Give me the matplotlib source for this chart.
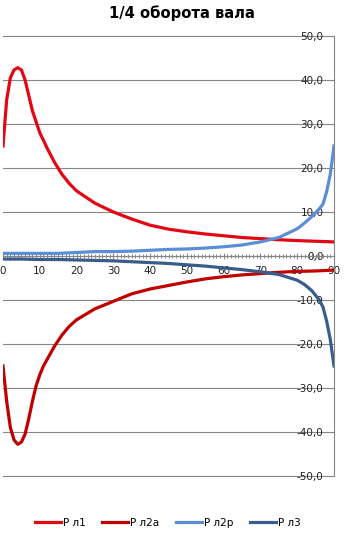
import numpy as np
import matplotlib
matplotlib.use('Agg')
import matplotlib.pyplot as plt
from matplotlib.ticker import MultipleLocator, FuncFormatter

# angle of shaft, degrees
angle_red = [0, 1, 2, 3, 4, 5, 6, 7, 8, 9, 10, 11, 12, 14, 16, 18, 20,
             25, 30, 35, 40, 45, 50, 55, 60, 65, 70, 75, 80, 85, 90]
p_l1 = [25, 35.5, 40.5, 42.3, 42.8, 42.3, 40, 36.5, 33, 30.5, 28, 26.3, 24.5,
        21.3, 18.6, 16.5, 14.8, 12, 10, 8.4, 7.0, 6.1, 5.5, 5.0, 4.6, 4.2,
        3.95, 3.7, 3.5, 3.35, 3.2]
p_l2a = [-25, -33, -39, -41.8, -42.8, -42.3, -40.5, -37, -33, -29.5, -27, -25,
         -23.5, -20.5, -18, -16, -14.5, -12, -10.3, -8.6, -7.5, -6.7, -5.9,
         -5.2, -4.7, -4.3, -4.0, -3.7, -3.5, -3.4, -3.2]

angle_blue = [0, 5, 10, 15, 20, 25, 30, 35, 40, 45, 50, 55, 60, 65, 70, 75,
              80, 82, 84, 86, 87, 88, 89, 90]
p_l2r = [0.6, 0.6, 0.6, 0.6, 0.8, 1.0, 1.0, 1.1, 1.3, 1.5, 1.6, 1.8, 2.1, 2.5,
         3.2, 4.2, 6.2, 7.5, 9.0, 10.7, 11.8, 14.6, 18.6, 25]
p_l3 = [-0.7, -0.7, -0.8, -0.8, -0.9, -1.0, -1.1, -1.3, -1.5, -1.7, -2.0, -2.3,
        -2.7, -3.1, -3.6, -4.2, -5.5, -6.5, -7.9, -10.0, -11.6, -14.8, -19, -25]

fig = plt.figure(figsize=(3.47, 5.41), dpi=100)
ax = fig.add_axes([3/347, 1-476/541, 331/347, 440/541])

ax.plot(angle_red, p_l1, color='#e30613', lw=2.3, label='Р л1')
ax.plot(angle_red, p_l2a, color='#c00000', lw=2.3, label='Р л2а')
ax.plot(angle_blue, p_l2r, color='#5b8ed6', lw=2.3, label='Р л2р')
ax.plot(angle_blue, p_l3, color='#385d8a', lw=2.3, label='Р л3')

ax.set_xlim(0, 90)
ax.set_ylim(-50, 50)

grey = '#868686'
ax.spines['top'].set_visible(False)
ax.spines['left'].set_visible(False)
ax.spines['bottom'].set_position(('data', 0))
ax.spines['bottom'].set_color(grey)
ax.spines['bottom'].set_linewidth(0.8)
ax.spines['right'].set_color(grey)
ax.spines['right'].set_linewidth(0.8)

ax.yaxis.set_major_locator(MultipleLocator(10))
ax.yaxis.set_major_formatter(FuncFormatter(lambda v, p: f"{v:.1f}".replace('.', ',')))
ax.grid(axis='y', color=grey, lw=0.8)
ax.set_axisbelow(True)
for gl in ax.get_ygridlines():
    gl.set_clip_on(False)
ax.tick_params(axis='y', left=False, labelleft=False, right=True,
               labelright=True, length=0, pad=-7.5, labelsize=7.5,
               labelcolor='#222222')
for lab in ax.get_yticklabels():
    lab.set_horizontalalignment('right')

ax.xaxis.set_major_locator(MultipleLocator(10))
ax.xaxis.set_minor_locator(MultipleLocator(1))
ax.tick_params(axis='x', which='major', direction='inout', length=4,
               color=grey, pad=5.5, labelsize=7.5, labelcolor='#222222')
ax.tick_params(axis='x', which='minor', direction='inout', length=3,
               color=grey, width=0.7)

fig.text(181.5/347, 1-13/541, '1/4 оборота вала', ha='center', va='center',
         fontsize=10.6, fontweight='bold')

fig.legend(loc='center', bbox_to_anchor=(168/347, 1-523/541), ncol=4,
           frameon=False, fontsize=7.5, handlelength=2.5, handletextpad=0.2,
           columnspacing=1.6)

fig.savefig('out.png', dpi=100)
